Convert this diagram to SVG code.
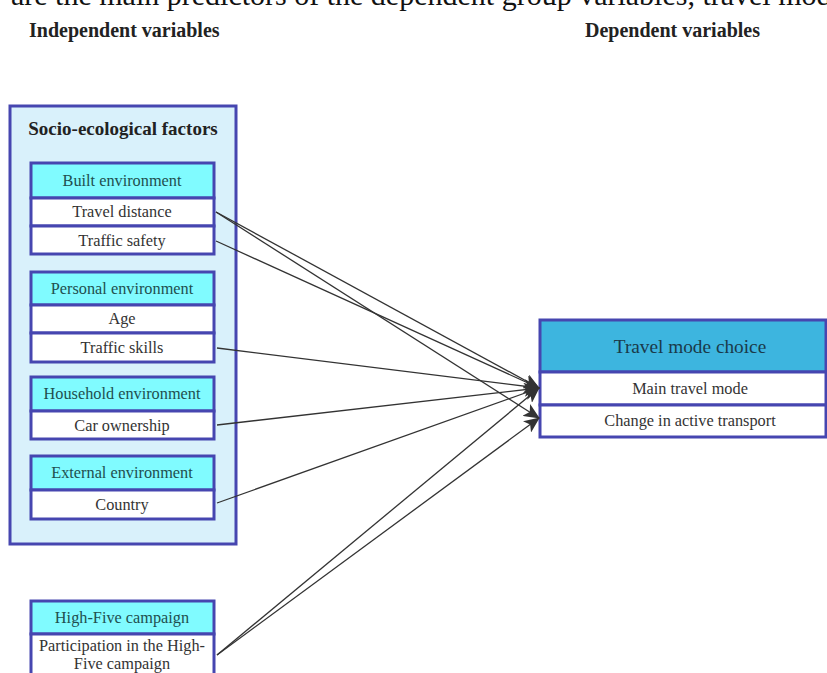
<svg xmlns="http://www.w3.org/2000/svg" width="827" height="673" viewBox="0 0 827 673">
<defs>
<style>
.bg{fill:#ffffff}
.outer{fill:#d9f1fb;stroke:#4646b0;stroke-width:3}
.hd{fill:#80fbff;stroke:#4646b0;stroke-width:3}
.row{fill:#ffffff;stroke:#4646b0;stroke-width:3}
.hd2{fill:#3db5df;stroke:#4646b0;stroke-width:3}
.t{font-family:"Liberation Serif","Times New Roman",serif;font-size:16.3px;fill:#333333;text-anchor:middle}
.th{font-family:"Liberation Serif","Times New Roman",serif;font-size:16.3px;fill:#1f4f4f;text-anchor:middle}
.tt{font-family:"Liberation Serif","Times New Roman",serif;font-size:19.3px;fill:#1a3a4a;text-anchor:middle}
.b{font-family:"Liberation Serif","Times New Roman",serif;font-weight:bold;fill:#222222}
.cut{font-family:"Liberation Serif","Times New Roman",serif;font-size:30px;fill:#111111}
.c{stroke:#333333;stroke-width:1.3;fill:none;marker-end:url(#ah)}
</style>
<marker id="ah" viewBox="0 0 16 14" refX="15" refY="7" markerWidth="16" markerHeight="14" markerUnits="userSpaceOnUse" orient="auto">
<path d="M0,0 L16,7 L0,14 L4,7 Z" fill="#333333"/>
</marker>
</defs>
<rect class="bg" x="0" y="0" width="827" height="673"/>
<text class="cut" x="11" y="5">are the main predictors of the dependent group variables, travel mode</text>
<text class="b" x="29" y="37" style="font-size:20px">Independent variables</text>
<text class="b" x="585" y="37" style="font-size:20px">Dependent variables</text>

<g id="socio-ecological-factors">
<rect class="outer" x="10" y="106" width="226" height="438"/>
<text class="b" x="123" y="135" style="font-size:19px" text-anchor="middle">Socio-ecological factors</text>
</g>

<g id="built-environment">
<rect class="hd" x="31" y="163" width="183" height="35"/>
<text class="th" x="122" y="186">Built environment</text>
<rect class="row" x="31" y="198" width="183" height="28"/>
<text class="t" x="122" y="217">Travel distance</text>
<rect class="row" x="31" y="226" width="183" height="28"/>
<text class="t" x="122" y="246">Traffic safety</text>
</g>

<g id="personal-environment">
<rect class="hd" x="31" y="272" width="183" height="33"/>
<text class="th" x="122" y="294">Personal environment</text>
<rect class="row" x="31" y="305" width="183" height="28"/>
<text class="t" x="122" y="324">Age</text>
<rect class="row" x="31" y="333" width="183" height="29"/>
<text class="t" x="122" y="353">Traffic skills</text>
</g>

<g id="household-environment">
<rect class="hd" x="31" y="377" width="183" height="34"/>
<text class="th" x="122" y="399">Household environment</text>
<rect class="row" x="31" y="411" width="183" height="28"/>
<text class="t" x="122" y="431">Car ownership</text>
</g>

<g id="external-environment">
<rect class="hd" x="31" y="456" width="183" height="34"/>
<text class="th" x="122" y="478">External environment</text>
<rect class="row" x="31" y="490" width="183" height="29"/>
<text class="t" x="122" y="510">Country</text>
</g>

<g id="high-five-campaign">
<rect class="hd" x="31" y="601" width="183" height="33"/>
<text class="th" x="122" y="623">High-Five campaign</text>
<rect class="row" x="31" y="634" width="183" height="45"/>
<text class="t" x="122" y="651">Participation in the High-</text>
<text class="t" x="122" y="669">Five campaign</text>
</g>

<g id="travel-mode-choice">
<rect class="hd2" x="540" y="320" width="286" height="52"/>
<text class="tt" x="690" y="353">Travel mode choice</text>
<rect class="row" x="540" y="372" width="286" height="33"/>
<text class="t" x="690" y="394">Main travel mode</text>
<rect class="row" x="540" y="405" width="286" height="32"/>
<text class="t" x="690" y="426">Change in active transport</text>
</g>

<g id="connectors">
<line class="c" x1="216" y1="212" x2="539" y2="388"/>
<line class="c" x1="216" y1="212" x2="539" y2="418"/>
<line class="c" x1="216" y1="241" x2="539" y2="388"/>
<line class="c" x1="217" y1="348" x2="539" y2="388"/>
<line class="c" x1="217" y1="425" x2="539" y2="388"/>
<line class="c" x1="217" y1="503" x2="539" y2="388"/>
<line class="c" x1="217" y1="655" x2="539" y2="388"/>
<line class="c" x1="217" y1="655" x2="539" y2="418"/>
</g>
</svg>
